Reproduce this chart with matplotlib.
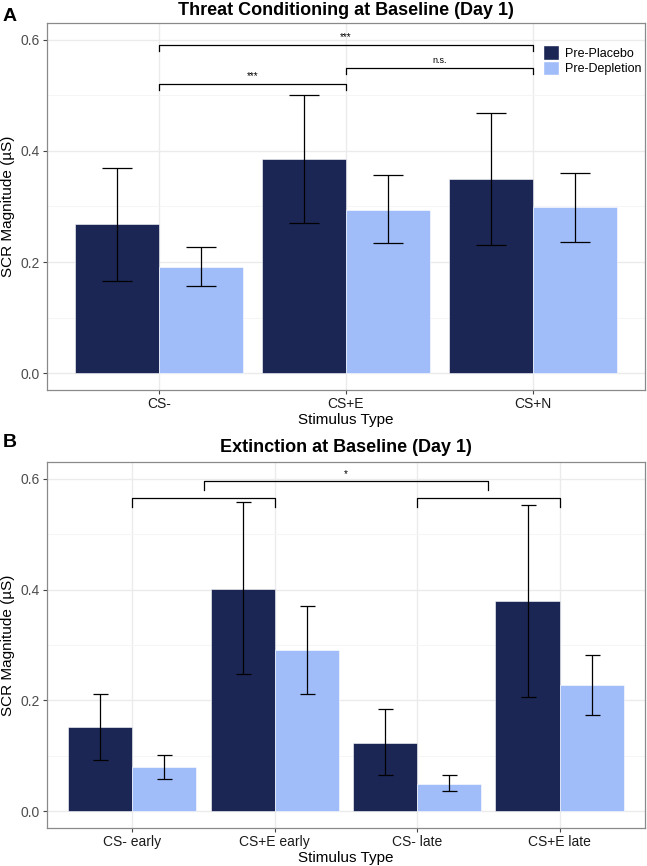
import numpy as np
import matplotlib
matplotlib.use("Agg")
import matplotlib.pyplot as plt
from matplotlib.patches import Patch

plt.rcParams['font.family'] = ['Liberation Sans', 'DejaVu Sans']

groups = ["Pre-Placebo", "Pre-Depletion"]
colors = ["#1b2654", "#a0bdfa"]

# Panel A: threat conditioning
cats_a = ["CS-", "CS+E", "CS+N"]
mean_a_plac = [0.268, 0.386, 0.349]
lo_a_plac = [0.166, 0.271, 0.231]
hi_a_plac = [0.370, 0.500, 0.468]
mean_a_depl = [0.192, 0.294, 0.299]
lo_a_depl = [0.157, 0.234, 0.237]
hi_a_depl = [0.228, 0.356, 0.361]

# Panel B: extinction
cats_b = ["CS- early", "CS+E early", "CS- late", "CS+E late"]
mean_b_plac = [0.152, 0.401, 0.124, 0.379]
lo_b_plac = [0.093, 0.247, 0.065, 0.206]
hi_b_plac = [0.212, 0.557, 0.185, 0.553]
mean_b_depl = [0.080, 0.291, 0.050, 0.227]
lo_b_depl = [0.058, 0.211, 0.036, 0.174]
hi_b_depl = [0.102, 0.370, 0.065, 0.282]

# significance brackets: (x1, x2, y, label)
sig_a = [(0, 2, 0.590, "***"), (1, 2, 0.549, "n.s."), (0, 1, 0.520, "***")]
sig_b = [(0, 1, 0.565, ""), (2, 3, 0.565, ""), (0.5, 2.5, 0.595, "*")]

BW = 0.45


def style_axes(ax, n):
    ax.set_xlim(-0.6, n - 0.4)
    ax.set_ylim(-0.03, 0.63)
    ax.set_yticks([0.0, 0.2, 0.4, 0.6])
    ax.set_yticklabels(["0.0", "0.2", "0.4", "0.6"])
    ax.set_yticks([0.1, 0.3, 0.5], minor=True)
    ax.set_xticks(range(n))
    ax.grid(which="major", color="#ebebeb", lw=1.0, zorder=0)
    ax.grid(which="minor", axis="y", color="#f4f4f4", lw=0.6, zorder=0)
    ax.set_axisbelow(True)
    for s in ax.spines.values():
        s.set_color("#8a8a8a")
        s.set_linewidth(0.9)
    ax.tick_params(which="major", colors="#444444", length=3, width=0.8,
                   labelsize=10, labelcolor="#4d4d4d", pad=2)
    ax.tick_params(which="minor", length=0)
    ax.tick_params(axis="x", labelcolor="#1a1a1a")
    ax.set_xlabel("Stimulus Type", fontsize=11, labelpad=1.5)
    ax.set_ylabel("SCR Magnitude (\u00b5S)", fontsize=11)
    ax.yaxis.set_label_coords(-0.054, 0.5)


def draw_bars(ax, cats, means, los, his, capsize):
    x = np.arange(len(cats))
    for i, (m, lo, hi) in enumerate(zip(means, los, his)):
        xs = x + (i - 0.5) * BW
        ax.bar(xs, m, width=BW, color=colors[i], edgecolor="white",
               linewidth=0.4, zorder=2)
        m = np.array(m)
        err = [m - np.array(lo), np.array(hi) - m]
        ax.errorbar(xs, m, yerr=err, fmt="none", ecolor="black",
                    elinewidth=0.9, capsize=capsize, capthick=0.9, zorder=3)
    ax.set_xticklabels(cats)


def draw_sig(ax, sigs, tip):
    for x1, x2, y, lab in sigs:
        ax.plot([x1, x1, x2, x2], [y - tip, y, y, y - tip], color="black",
                lw=0.9, zorder=4)
        if lab:
            fs = 6.5 if lab == "n.s." else 7
            ax.text((x1 + x2) / 2, y + 0.005, lab, ha="center", va="bottom",
                    fontsize=fs)


fig = plt.figure(figsize=(6.47, 8.66), dpi=100)

ax1 = fig.add_axes([0.0726, 0.5497, 0.9243, 0.4237])
draw_bars(ax1, cats_a, [mean_a_plac, mean_a_depl], [lo_a_plac, lo_a_depl],
          [hi_a_plac, hi_a_depl], capsize=10.8)
style_axes(ax1, 3)
draw_sig(ax1, sig_a, 0.01)
ax1.set_title("Threat Conditioning at Baseline (Day 1)", fontsize=13,
              fontweight="bold", pad=5.5)
handles = [Patch(facecolor=c, edgecolor="white", label=g) for g, c in zip(groups, colors)]
ax1.legend(handles=handles, loc="upper left", bbox_to_anchor=(0.829, 0.94),
           frameon=False, fontsize=9, handlelength=1.3, handleheight=1.45,
           handletextpad=0.45, labelspacing=0.05, borderpad=0,
           borderaxespad=0)

ax2 = fig.add_axes([0.0726, 0.0439, 0.9243, 0.4226])
draw_bars(ax2, cats_b, [mean_b_plac, mean_b_depl], [lo_b_plac, lo_b_depl],
          [hi_b_plac, hi_b_depl], capsize=5.4)
style_axes(ax2, 4)
draw_sig(ax2, sig_b, 0.016)
ax2.set_title("Extinction at Baseline (Day 1)", fontsize=13,
              fontweight="bold", pad=7.5)

fig.text(0.004, 0.991, "A", fontsize=14, fontweight="bold", va="top")
fig.text(0.004, 0.499, "B", fontsize=14, fontweight="bold", va="top")

fig.savefig("out.png", dpi=100)
